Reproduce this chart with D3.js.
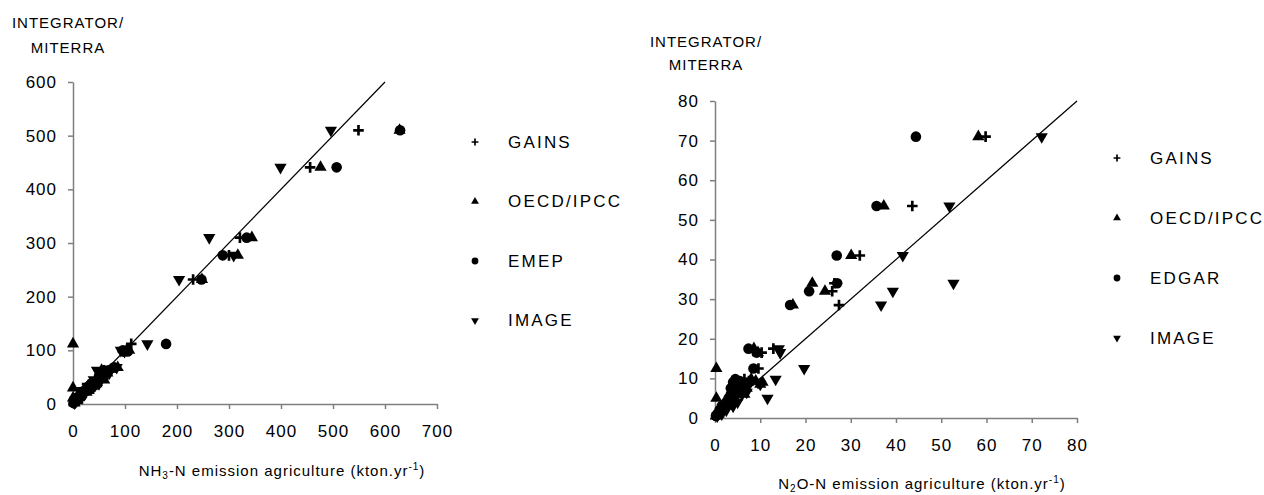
<!DOCTYPE html>
<html>
<head>
<meta charset="utf-8">
<script src="https://cdn.jsdelivr.net/npm/d3@7"></script>
<style>
  body { margin: 0; background: #fff; }
  svg { font-family: "Liberation Sans", Arial, sans-serif; }
  .tick text { font-size: 17px; letter-spacing: 1px; fill: #000; }
  .axis path, .axis line { stroke: #7f7f7f; stroke-width: 1.5px; }
  .title { font-size: 15px; letter-spacing: 1px; }
  .legend-text { font-size: 17px; letter-spacing: 2.2px; }
</style>
</head>
<body>
<svg id="chart" width="1264" height="495"></svg>
<script>
var svg = d3.select('#chart');

// series names in drawing order
var seriesKeys = ['gains', 'oecd', 'inv', 'image'];

// ---- left panel: NH3-N (one entry per country) ----
var nh3Integrator = [510, 441, 310, 277, 232, 112, 100, 98, 68, 63, 58, 52, 45, 40, 38, 33, 30, 25, 22, 18, 14, 11, 8, 6, 4, 2];
var nh3Gains      = [549, 456, 321, 300, 231, 112, 104, 96, 80, 60, 62, 55, 52, 42, 40, 34, 32, 25, 22, 20, 14, 10, 8, 6, 4, 2];
var nh3Oecd       = [628, 476, 344, 317, 248,   0, 108, 102, 86, 55, 66, 58, 60, 46, 45, 38,  0, 30, 26, 16, 12,  0, 9, 8, 2, 3];
var nh3Emep       = [629, 507, 334, 288, 247, 179,  96, 105, 78, 68, 58, 50, 48, 38, 35, 30, 36, 22, 18, 14, 16,  8, 6, 5, 3, 1];
var nh3Image      = [496, 399, 262, 309, 204, 143,  92, 99, 84, 46, 70, 62, 40, 44, 50, 28, 28, 18, 24, 22, 10, 12, 5, 4, 5, 3];
var nh3Ticks = { x: [0, 100, 200, 300, 400, 500, 600, 700], y: [0, 100, 200, 300, 400, 500, 600] };

// ---- right panel: N2O-N ----
var n2oIntegrator = [71, 53.5, 41, 34, 32, 28.5, 17.5, 16.5, 12.5, 9.8, 9.3, 9, 8.5, 7.5, 6.5, 6, 5, 4, 3, 2, 1, 0.5];
var n2oGains      = [59.8, 43.6, 32, 26.4, 25.9, 27.4, 12.9, 10.3, 9.6, 6.5, 7.5, 5, 7.5, 6, 5.5, 5, 4, 3, 2, 1.5, 0.7, 0.3];
var n2oOecd       = [58.2, 37.3, 30.1, 21.5, 24.3, 17.2, 8.6, 9.5, 0.3, 8, 9, 10.5, 10, 7, 6, 6.5, 0.3, 4, 2.5, 1, 0.8, 0.2];
var n2oEdgar      = [44.4, 35.7, 26.9, 27, 20.8, 16.6, 7.4, 9.2, 8.5, 4.5, 5.5, 4, 4.5, 3.5, 4.5, 3.5, 3, 2.5, 1.5, 1, 0.5, 0.2];
var n2oImage      = [72.2, 51.8, 41.5, 52.7, 39.3, 36.7, 14.1, 14.4, 19.7, 13.4, 8, 9.5, 10, 6.5, 7, 6, 11.6, 5, 4, 2.5, 1.5, 0.5];
var n2oTicks = { x: [0, 10, 20, 30, 40, 50, 60, 70, 80], y: [0, 10, 20, 30, 40, 50, 60, 70, 80] };

var nh3Legend = ['GAINS', 'OECD/IPCC', 'EMEP', 'IMAGE'];
var n2oLegend = ['GAINS', 'OECD/IPCC', 'EDGAR', 'IMAGE'];

function toPoints(ys, cols) {
  var pts = [];
  ys.forEach(function(y, i) {
    seriesKeys.forEach(function(k, j) {
      pts.push({ key: k, x: cols[j][i], y: y });
    });
  });
  return pts;
}

// marker shapes
function marker(sel, key, s) {
  if (key === 'gains') {
    sel.append('path')
      .attr('d', 'M' + (-s) + ',0H' + s + 'M0,' + (-s) + 'V' + s)
      .attr('stroke', '#000').attr('stroke-width', s * 0.5).attr('fill', 'none');
  } else if (key === 'inv') {
    sel.append('circle').attr('r', s).attr('fill', '#000');
  } else {
    var tri = d3.symbol().type(d3.symbolTriangle).size(s * s * 2.3)();
    sel.append('path').attr('d', tri).attr('fill', '#000')
      .attr('transform', key === 'image' ? 'rotate(180)' : null);
  }
}

function drawPanel(opt) {
  var x = d3.scaleLinear().domain(opt.xDomain).range(opt.xRange);
  var y = d3.scaleLinear().domain(opt.yDomain).range(opt.yRange);
  var g = svg.append('g');

  g.append('g').attr('class', 'axis')
    .attr('transform', 'translate(0,' + opt.yRange[0] + ')')
    .call(d3.axisBottom(x).tickValues(opt.ticks.x).tickSize(5).tickPadding(16).tickSizeOuter(0));
  g.append('g').attr('class', 'axis')
    .attr('transform', 'translate(' + opt.xRange[0] + ',0)')
    .call(d3.axisLeft(y).tickValues(opt.ticks.y).tickSize(5).tickPadding(11).tickSizeOuter(0));

  // 1:1 line
  g.append('line')
    .attr('x1', x(0)).attr('y1', y(0))
    .attr('x2', x(opt.lineMax)).attr('y2', y(opt.lineMax))
    .attr('stroke', '#000').attr('stroke-width', 1.2);

  var pts = g.selectAll('.pt')
    .data(opt.points)
    .enter()
    .append('g')
      .attr('class', 'pt')
      .attr('transform', d => 'translate(' + x(d.x) + ',' + y(d.y) + ')');
  pts.each(function(d) { marker(d3.select(this), d.key, 5.3); });

  // y title
  var yt = g.append('text').attr('class', 'title').attr('text-anchor', 'middle');
  yt.append('tspan').attr('x', opt.yTitle[0]).attr('y', opt.yTitle[1]).text('INTEGRATOR/');
  yt.append('tspan').attr('x', opt.yTitle[0]).attr('y', opt.yTitle[1] + opt.yTitle[2]).text('MITERRA');

  // x title with sub/superscript
  var xt = g.append('text').attr('class', 'title').attr('text-anchor', 'middle')
    .attr('x', opt.xTitle[0]).attr('y', opt.xTitle[1]);
  xt.append('tspan').text(opt.xName[0]);
  xt.append('tspan').attr('font-size', 10).attr('dy', 3).text(opt.xName[1]);
  xt.append('tspan').attr('dy', -3).text(opt.xName[2]);
  xt.append('tspan').attr('font-size', 10).attr('dy', -6).text('-1');
  xt.append('tspan').attr('dy', 6).text(')');

  // legend
  var lg = g.selectAll('.lg')
    .data(opt.legend)
    .enter()
    .append('g')
      .attr('transform', (d, i) => 'translate(' + opt.legendPos[0] + ',' + (opt.legendPos[1] + i * opt.legendPos[2]) + ')');
  lg.each(function(d, i) { marker(d3.select(this), seriesKeys[i], 3.4); });
  lg.append('text')
    .attr('class', 'legend-text')
    .attr('x', 33).attr('dy', '0.35em')
    .text(d => d);
}

drawPanel({
  xDomain: [0, 700], xRange: [73, 437],
  yDomain: [0, 600], yRange: [404, 82],
  ticks: nh3Ticks, lineMax: 600,
  points: toPoints(nh3Integrator, [nh3Gains, nh3Oecd, nh3Emep, nh3Image]),
  yTitle: [68, 28, 25],
  xTitle: [282, 476],
  xName: ['NH', '3', '-N emission agriculture (kton.yr'],
  legend: nh3Legend,
  legendPos: [475, 142, 59.5]
});

drawPanel({
  xDomain: [0, 80], xRange: [715, 1077],
  yDomain: [0, 80], yRange: [418, 101],
  ticks: n2oTicks, lineMax: 80,
  points: toPoints(n2oIntegrator, [n2oGains, n2oOecd, n2oEdgar, n2oImage]),
  yTitle: [706, 47, 23],
  xTitle: [922, 489],
  xName: ['N', '2', 'O-N emission agriculture (kton.yr'],
  legend: n2oLegend,
  legendPos: [1117, 158, 60]
});
</script>
</body>
</html>
